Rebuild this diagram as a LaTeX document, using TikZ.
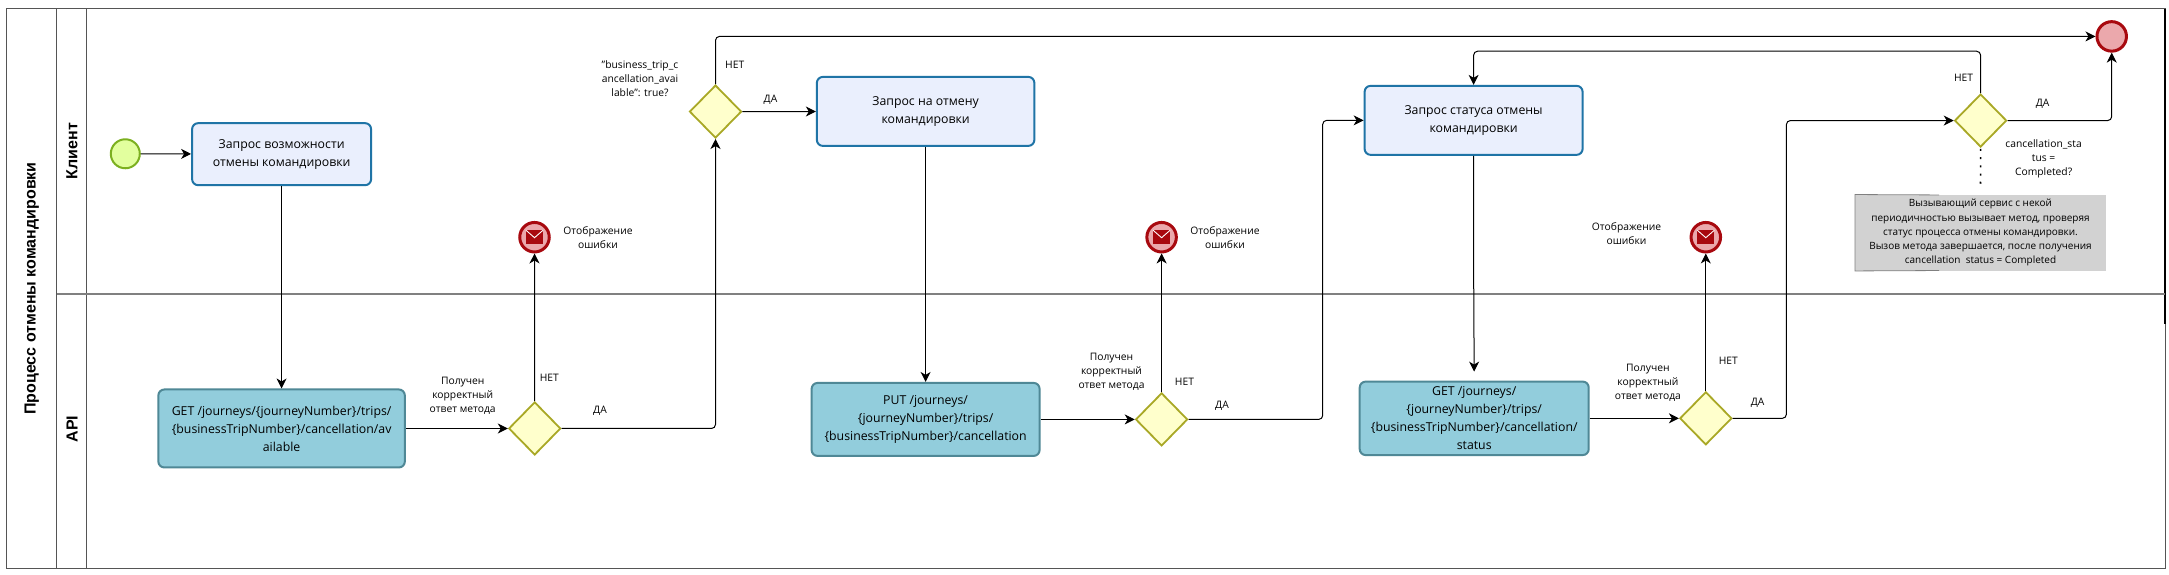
\documentclass[tikz,border=0pt]{standalone}
\usepackage{fontspec}
\setmainfont{Open Sans}
\newfontfamily\titlefont{Liberation Sans}
\usetikzlibrary{arrows.meta,shapes.geometric,calc}
\definecolor{taskfill}{HTML}{EAEFFD}
\definecolor{taskline}{HTML}{1F74A6}
\definecolor{apifill}{HTML}{92CDDC}
\definecolor{apiline}{HTML}{4F8896}
\definecolor{gatefill}{HTML}{FFFFCC}
\definecolor{gateline}{HTML}{A9A826}
\definecolor{startfill}{HTML}{E2FF9E}
\definecolor{startline}{HTML}{7CB020}
\definecolor{endfill}{HTML}{EBA8AC}
\definecolor{endline}{HTML}{A8090F}
\definecolor{lanegray}{HTML}{555555}
\definecolor{notefill}{HTML}{D2D2D2}
\tikzset{
  x=1pt,y=-0.9946pt,
  lane/.style={draw=lanegray,line width=0.9pt},
  flow/.style={draw=black,line width=1pt,rounded corners=4pt,-{Stealth[length=10pt,width=10pt,inset=3pt]}},
  clienttask/.style={draw=taskline,fill=taskfill,line width=2pt,rounded corners=6pt,align=center,inner sep=0pt,
    font=\fontsize{12.3}{18}\selectfont},
  apitask/.style={draw=apiline,fill=apifill,line width=2pt,rounded corners=6pt,align=center,inner sep=0pt,
    font=\fontsize{12.3}{18}\selectfont},
  gateway/.style={diamond,aspect=1,draw=gateline,fill=gatefill,line width=1.8pt,inner sep=0pt,minimum width=52pt,minimum height=53pt},
  startev/.style={circle,draw=startline,fill=startfill,line width=2pt,inner sep=0pt,minimum size=29pt},
  endev/.style={circle,draw=endline,fill=endfill,line width=3pt,inner sep=0pt,minimum size=29.5pt},
  lbl/.style={align=center,inner sep=0pt,font=\fontsize{10.3}{14}\selectfont},
  notetxt/.style={align=center,inner sep=0pt,fill=notefill,font=\fontsize{10}{14.2}\selectfont},
  lanetitle/.style={rotate=90,inner sep=0pt,font=\titlefont\bfseries\fontsize{16}{18}\selectfont},
}
\newcommand{\mailicon}[1]{%
  \fill[endline] ($(#1.center)+(-8.5,-7)$) rectangle ($(#1.center)+(8.5,7)$);
  \draw[white,line width=0.9pt] ($(#1.center)+(-8.5,-7)$) -- ($(#1.center)+(0,0.5)$) -- ($(#1.center)+(8.5,-7)$);
}
\begin{document}
\begin{tikzpicture}
\useasboundingbox (0,0) rectangle (2169,577.12);
\fill[white] (0,0) rectangle (2169,577.12);
% pool and lanes
\coordinate (ptl) at (6.4,8.5);
\coordinate (pbr) at (2165,571.5);
\coordinate (d1t) at (56.5,8.5);
\coordinate (d1b) at (56.5,571.5);
\coordinate (d2t) at (86.3,8.5);
\coordinate (d2b) at (86.3,571.5);
\coordinate (hl) at (56.5,296);
\coordinate (hr) at (2165,296);
\coordinate (ert) at (2165,9);
\coordinate (erb) at (2165,326);
\draw[lane] (ptl) rectangle (pbr);
\draw[lane] (d1t) -- (d1b);
\draw[lane] (d2t) -- (d2b);
\draw[draw=black,line width=1.1pt] (ert) -- (erb);
\draw[draw=black!50,line width=2pt] (hl) -- (hr);
\node[lanetitle] (pooltitle) at (31.7,290) {Процесс отмены командировки};
\node[lanetitle] (lane1) at (72,152) {Клиент};
\node[lanetitle] (lane2) at (72,431.5) {API};

% events
\node[startev] (st) at (125.3,154.6) {};
\node[endev] (e1) at (534.5,238.5) {};
\node[endev] (e2) at (1161.6,238.5) {};
\node[endev] (e3) at (1705.8,238.5) {};
\node[endev] (fin) at (2111.7,36.6) {};
\mailicon{e1}\mailicon{e2}\mailicon{e3}

% tasks
\node[clienttask,minimum width=179pt,minimum height=62pt] (t1) at (281.6,155) {Запрос возможности\\отмены командировки};
\node[clienttask,minimum width=217.5pt,minimum height=69pt] (t2) at (925.6,112) {Запрос на отмену\\командировки};
\node[clienttask,minimum width=218pt,minimum height=69pt] (t3) at (1473.6,121) {Запрос статуса отмены\\командировки};
\node[apitask,minimum width=229pt,minimum height=73.5pt] (a3) at (1474.2,420.6) {GET /journeys/\\\{journeyNumber\}/trips/\\\{businessTripNumber\}/cancellation/\\status};
\node[apitask,minimum width=246.5pt,minimum height=78pt] (a1) at (281.6,430.8) {GET /journeys/\{journeyNumber\}/trips/\\\{businessTripNumber\}/cancellation/av\\ailable};
\node[apitask,minimum width=228pt,minimum height=73pt] (a2) at (925.6,421.7) {PUT /journeys/\\\{journeyNumber\}/trips/\\\{businessTripNumber\}/cancellation};

% gateways
\node[gateway] (g1) at (534.7,430.8) {};
\node[gateway] (g2) at (715.5,112.2) {};
\node[gateway] (g3) at (1161.6,421.7) {};
\node[gateway] (g4) at (1705.8,420.6) {};
\node[gateway] (g5) at (1980.6,121.2) {};

% note
\node[notetxt,minimum width=250.7pt,minimum height=76pt] (note) at (1980.5,234) {Вызывающий сервис с некой\\периодичностью вызывает метод, проверяя\\статус процесса отмены командировки.\\Вызов метода завершается, после получения\\cancellation\ \ status = Completed};
\coordinate (nb1) at (1939,196);
\coordinate (nb2) at (1939,272);
\draw[draw=gray,line width=0.8pt] (nb1) -- (note.north west) -- (note.south west) -- (nb2);
\draw[line width=1.6pt,dash pattern=on 2pt off 6.2pt,shorten >=5pt,shorten <=1pt] (g5.south) -- (note.north);

% routing points
\coordinate (r3a) at (1322.7,421.7);
\coordinate (r3b) at (1322.7,121);
\coordinate (r4a) at (1786.4,420.6);
\coordinate (r4b) at (1786.4,121.2);
\coordinate (l5a) at (1980.6,51.5);
\coordinate (l5b) at (1473.6,51.5);
\coordinate (k1) at (1473.6,264);

% connectors
\draw[flow] (st) -- (t1);
\draw[flow] (t1) -- (a1);
\draw[flow] (a1) -- (g1);
\draw[flow] (g1) -- (e1);
\draw[flow] (g1.east) -| (g2.south);
\draw[flow] (g2.north) |- (fin.west);
\draw[flow] (g2) -- (t2);
\draw[flow] (t2) -- (a2);
\draw[flow] (a2) -- (g3);
\draw[flow] (g3) -- (e2);
\draw[flow] (g3.east) -- (r3a) -- (r3b) -- (t3.west);
\draw[flow,shorten >=9pt] (t3.south) -- (k1) -- (a3.north);
\draw[flow] (a3) -- (g4);
\draw[flow] (g4) -- (e3);
\draw[flow] (g4.east) -- (r4a) -- (r4b) -- (g5.west);
\draw[flow] (g5.north) -- (l5a) -- (l5b) -- (t3.north);
\draw[flow] (g5.east) -| (fin.south);

% labels
\node[lbl] (le1) at (598,238.5) {Отображение\\ошибки};
\node[lbl] (le2) at (1225,238.5) {Отображение\\ошибки};
\node[lbl] (le3) at (1626.5,234.6) {Отображение\\ошибки};
\node[lbl] (lg1) at (462.7,398.3) {Получен\\корректный\\ответ метода};
\node[lbl] (lg3) at (1111.5,373.4) {Получен\\корректный\\ответ метода};
\node[lbl] (lg4) at (1647.9,385.3) {Получен\\корректный\\ответ метода};
\node[lbl] (lbt) at (640,78.8) {"business\_trip\_c\\ancellation\_avai\\lable": true?};
\node[lbl] (lcs) at (2043.6,160) {cancellation\_sta\\tus =\\Completed?};
\node[lbl] (n1) at (549.4,380) {НЕТ};
\node[lbl] (y1) at (600,412.5) {ДА};
\node[lbl] (n2) at (734.7,64.8) {НЕТ};
\node[lbl] (y2) at (770.5,100) {ДА};
\node[lbl] (n3) at (1184.5,384) {НЕТ};
\node[lbl] (y3) at (1222,408) {ДА};
\node[lbl] (n4) at (1728.3,362.8) {НЕТ};
\node[lbl] (y4) at (1757.6,405) {ДА};
\node[lbl] (n5) at (1963.6,78.4) {НЕТ};
\node[lbl] (y5) at (2042.6,104) {ДА};
\end{tikzpicture}
\end{document}
